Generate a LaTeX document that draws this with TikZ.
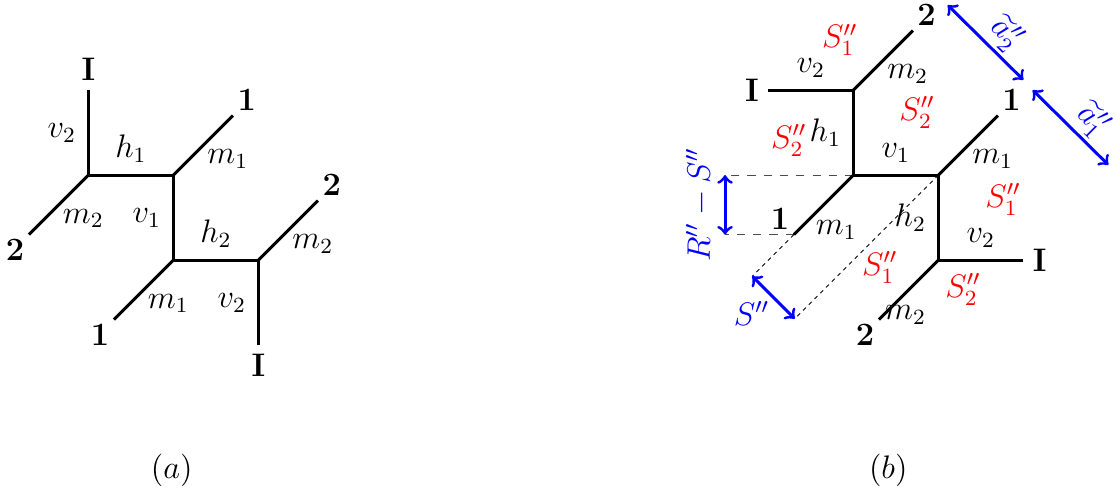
\documentclass[tikz,border=0pt,12pt]{standalone}
\usepackage{amsmath}
\begin{document}
\begin{tikzpicture}[
  x=1.1cm, y=1.1cm,
  web/.style={line width=1.1pt},
  ext/.style={font=\bfseries, inner sep=1.5pt},
  leglab/.style={inner sep=1pt},
  reg/.style={red},
  dim/.style={blue, line width=1.1pt, <->},
  guide/.style={dashed, line width=0.4pt, black!70},
  fine/.style={dash pattern=on 1.5pt off 1.5pt, line width=0.3pt}
]
  \useasboundingbox (0,0) rectangle (13.13,5.86);

  \coordinate (a1) at (1.04,3.8);
  \coordinate (a2) at (2.04,3.8);
  \coordinate (a3) at (2.04,2.8);
  \coordinate (a4) at (3.04,2.8);

  \coordinate (aI1) at (1.04,4.8);
  \coordinate (a21) at (0.34,3.1);
  \coordinate (a11) at (2.74,4.5);
  \coordinate (a12) at (1.34,2.1);
  \coordinate (a22) at (3.74,3.5);
  \coordinate (aI2) at (3.04,1.8);

  \draw[web] (aI1) -- node[left] {$v_2$} (a1);
  \draw[web] (a1) -- node[leglab, below right] {$m_2$} (a21);
  \draw[web] (a1) -- node[above] {$h_1$} (a2);
  \draw[web] (a2) -- node[leglab, below right] {$m_1$} (a11);
  \draw[web] (a2) -- node[left] {$v_1$} (a3);
  \draw[web] (a3) -- node[leglab, below right] {$m_1$} (a12);
  \draw[web] (a3) -- node[above] {$h_2$} (a4);
  \draw[web] (a4) -- node[leglab, below right] {$m_2$} (a22);
  \draw[web] (a4) -- node[left] {$v_2$} (aI2);

  \node[ext, inner sep=3.3pt, anchor=south] (laI1) at (aI1) {I};
  \node[ext, anchor=north east] (la21) at (a21) {2};
  \node[ext, anchor=south west] (la11) at (a11) {1};
  \node[ext, anchor=north east] (la12) at (a12) {1};
  \node[ext, anchor=south west] (la22) at (a22) {2};
  \node[ext, inner sep=3.3pt, anchor=north] (laI2) at (aI2) {I};

  \node (capa) at (2.02,0.33) {$(a)$};

  \coordinate (b1) at (10.04,4.8);
  \coordinate (b2) at (10.04,3.8);
  \coordinate (b3) at (11.04,3.8);
  \coordinate (b4) at (11.04,2.8);

  \coordinate (bI1) at (9.04,4.8);
  \coordinate (b21) at (10.74,5.5);
  \coordinate (b11) at (11.74,4.5);
  \coordinate (b12) at (9.34,3.1);
  \coordinate (bI2) at (12.04,2.8);
  \coordinate (b22) at (10.34,2.1);

  \coordinate (r1) at (8.53,3.8);
  \coordinate (r2) at (8.53,3.1);
  \coordinate (s1) at (8.85,2.61);
  \coordinate (s2) at (9.35,2.11);
  \coordinate (t1) at (11.15,5.8);
  \coordinate (t2) at (12.04,4.92);
  \coordinate (t3) at (12.15,4.8);
  \coordinate (t4) at (13.04,3.92);

  \draw[guide] (b2) -- (r1) (b12) -- (r2);
  \draw[fine] (b12) -- (s1) (b3) -- (s2);

  \draw[web] (bI1) -- node[above] {$v_2$} (b1);
  \draw[web] (b1) -- node[leglab, below right] {$m_2$} (b21);
  \draw[web] (b1) -- node[left] {$h_1$} (b2);
  \draw[web] (b2) -- node[above] {$v_1$} (b3);
  \draw[web] (b3) -- node[leglab, below right] {$m_1$} (b11);
  \draw[web] (b2) -- node[leglab, pos=0.7, below right] {$m_1$} (b12);
  \draw[web] (b3) -- node[left] {$h_2$} (b4);
  \draw[web] (b4) -- node[above] {$v_2$} (bI2);
  \draw[web] (b4) -- node[pos=0.55, below] {$m_2$} (b22);

  \node[ext, inner sep=3.3pt, anchor=east] (lbI1) at (bI1) {I};
  \node[ext, anchor=south west] (lb21) at (b21) {2};
  \node[ext, anchor=south west] (lb11) at (b11) {1};
  \node[ext, anchor=south east] (lb12) at (b12) {1};
  \node[ext, inner sep=3.3pt, anchor=west] (lbI2) at (bI2) {I};
  \node[ext, anchor=north east] (lb22) at (b22) {2};

  \node[reg] (sa) at (9.88,5.39) {$S''_1$};
  \node[reg] (sb) at (10.79,4.54) {$S''_2$};
  \node[reg] (sc) at (9.28,4.21) {$S''_2$};
  \node[reg] (sd) at (11.8,3.51) {$S''_1$};
  \node[reg] (se) at (10.35,2.71) {$S''_1$};
  \node[reg] (sf) at (11.33,2.45) {$S''_2$};

  \draw[dim] (r1) -- node[midway, above, rotate=90] {$R''-S''$} (r2);
  \draw[dim] (s1) -- node[leglab, below left] {$S''$} (s2);
  \draw[dim] (t1) -- node[leglab, pos=0.58, sloped, above] {$\widetilde{a}''_2$} (t2);
  \draw[dim] (t3) -- node[leglab, pos=0.6, sloped, above] {$\widetilde{a}''_1$} (t4);

  \node (capb) at (10.45,0.33) {$(b)$};
\end{tikzpicture}
\end{document}
